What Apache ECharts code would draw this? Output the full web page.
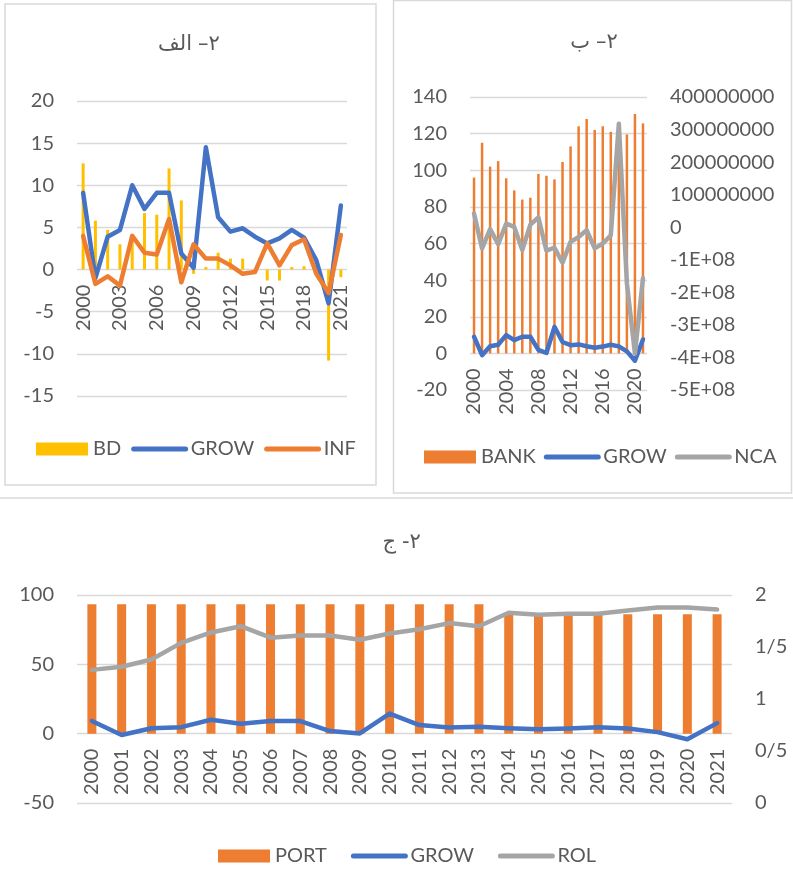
<!DOCTYPE html>
<html>
<head>
<meta charset="utf-8">
<script src="https://cdn.jsdelivr.net/npm/echarts@6/dist/echarts.min.js"></script>
<style>
    html, body { margin: 0; padding: 0; background: #fff; }
    #main { width: 793px; height: 890px; }
</style>
</head>
<body>
<div id="main"></div>
<script>
    // data
    var years = ['2000', '2001', '2002', '2003', '2004', '2005', '2006', '2007', '2008', '2009', '2010',
                 '2011', '2012', '2013', '2014', '2015', '2016', '2017', '2018', '2019', '2020', '2021'];
    var bd   = [12.6, 5.8, 4.7, 3.0, 3.5, 6.7, 6.5, 12.0, 8.2, -0.5, 0.3, 2.0, 1.3, 1.3, 0.1, -1.3, -1.3, 0.3, 0.4, 0.1, -10.8, -0.9];
    var grow = [9.1, -1.0, 3.9, 4.7, 10.0, 7.2, 9.1, 9.1, 1.9, 0.2, 14.5, 6.2, 4.5, 4.9, 3.9, 3.1, 3.7, 4.7, 3.8, 1.1, -4.0, 7.6];
    var inf  = [4.0, -1.7, -0.8, -1.9, 4.0, 2.0, 1.8, 6.0, -1.5, 3.0, 1.3, 1.3, 0.5, -0.5, -0.3, 3.1, 0.5, 2.9, 3.6, -0.5, -2.8, 4.1];
    var bank = [96, 115, 102, 105, 95.6, 89, 84, 85, 98, 97, 95, 104.5, 113, 124, 128, 122, 124, 121, 125, 119.6, 130.7, 125.6];
    var nca  = [42000000, -65000000, -6000000, -52000000, 11000000, 1000000, -70000000, 8000000, 30000000, -72000000, -63000000,
                -109000000, -45000000, -30000000, -9000000, -65000000, -50000000, -25000000, 318000000, -172000000, -388000000, -157000000];
    var port = [93.3, 93.3, 93.3, 93.3, 93.3, 93.3, 93.3, 93.3, 93.3, 93.3, 93.3, 93.3, 93.3, 93.3,
                86.2, 86.2, 86.2, 86.2, 86.2, 86.2, 86.2, 86.2];
    var rol  = [1.28, 1.31, 1.38, 1.54, 1.64, 1.70, 1.59, 1.61, 1.61, 1.57, 1.63, 1.67, 1.73, 1.70,
                1.83, 1.81, 1.82, 1.82, 1.85, 1.88, 1.88, 1.86];

    var font = 'Lato, "Open Sans", sans-serif';
    var grey = '#595959';
    var gridGrey = '#D9D9D9';
    var blue = '#4472C4', orange = '#ED7D31', gold = '#FFC000', silver = '#A5A5A5';

    var grids = [
        { left: 77, top: 101, width: 270, height: 295, min: -15, max: 20 },
        { left: 470, top: 97, width: 177, height: 293, min: -20, max: 140 },
        { left: 77, top: 595, width: 655, height: 208, min: -50, max: 100 }
    ];

    // the year labels sit on the zero line, as in the source: lift the axis from the grid bottom
    function catAxis (gi, interval) {
        var g = grids[gi];
        var lift = g.height * (0 - g.min) / (g.max - g.min);
        return {
            type: 'category', gridIndex: gi, data: years, offset: -lift,
            axisLine: { show: false, onZero: false },
            axisTick: { show: false },
            axisLabel: { interval: interval, rotate: 90, margin: 15, fontSize: 20, color: grey, fontFamily: font }
        }
    }

    function valAxis (gi, min, max, step, pos, fmt) {
        return {
            type: 'value', gridIndex: gi, min: min, max: max, interval: step, position: pos,
            axisLine: { show: false }, axisTick: { show: false },
            splitLine: { show: pos === 'left', lineStyle: { color: gridGrey, width: 1.3 } },
            axisLabel: { margin: 23, fontSize: 20, color: grey, fontFamily: font, formatter: fmt }
        }
    }

    function lineSeries (name, data, color, x, y) {
        return {
            name: name, type: 'line', data: data, xAxisIndex: x, yAxisIndex: y,
            symbol: 'none', animation: false,
            lineStyle: { color: color, width: 4.5, cap: 'round', join: 'round' },
            itemStyle: { color: color }
        }
    }

    function barSeries (name, data, color, width, x, y) {
        return {
            name: name, type: 'bar', data: data, xAxisIndex: x, yAxisIndex: y,
            barWidth: width, animation: false, itemStyle: { color: color }
        }
    }

    // line entries keep only their stroke, the marker is hidden
    function legend (left, top, gap, names) {
        return {
            left: left, top: top, itemWidth: 52, itemHeight: 13, itemGap: gap,
            data: [
                { name: names[0], icon: 'rect' },
                { name: names[1], itemStyle: { opacity: 0 } },
                { name: names[2], itemStyle: { opacity: 0 } }
            ],
            textStyle: { fontSize: 20, color: grey, fontFamily: font },
            lineStyle: { width: 5, cap: 'round' },
            selectedMode: false
        }
    }

    // the word and the "–۲" part are drawn as two runs so their order stays fixed
    function title (word, tail, x, y) {
        var st = { fontSize: 21, fontFamily: '"DejaVu Sans", sans-serif', fill: grey, verticalAlign: 'middle' };
        return [
            { type: 'text', x: x - 3, y: y, silent: true, style: Object.assign({ text: word, align: 'right' }, st) },
            { type: 'text', x: x + 3, y: y, silent: true, style: Object.assign({ text: tail, align: 'left' }, st) }
        ]
    }

    var chart = echarts.init(document.getElementById('main'));
    chart.setOption({
        backgroundColor: '#fff',
        animation: false,
        grid: grids.map(function (g) {
            return { left: g.left, top: g.top, width: g.width, height: g.height };
        }),
        xAxis: [catAxis(0, 2), catAxis(1, 3), catAxis(2, 0)],
        yAxis: [
            valAxis(0, -15, 20, 5, 'left'),
            valAxis(1, -20, 140, 20, 'left'),
            valAxis(1, -500000000, 400000000, 100000000, 'right', function (v) {
                return v < 0 ? '-' + (-v / 1e8) + 'E+08' : String(v);
            }),
            valAxis(2, -50, 100, 50, 'left'),
            valAxis(2, 0, 2, 0.5, 'right', function (v) {
                return String(v).replace('.', '/');
            })
        ],
        legend: [
            legend(31, 434, 10, ['BD', 'GROW', 'INF']),
            legend(419, 442, 8, ['BANK', 'GROW', 'NCA']),
            legend(213, 841, 24, ['PORT', 'GROW', 'ROL'])
        ],
        series: [
            barSeries('BD', bd, gold, 3, 0, 0),
            lineSeries('GROW', grow, blue, 0, 0),
            lineSeries('INF', inf, orange, 0, 0),

            barSeries('BANK', bank, orange, 2.5, 1, 1),
            lineSeries('GROW', grow, blue, 1, 1),
            lineSeries('NCA', nca, silver, 1, 2),

            barSeries('PORT', port, orange, 9, 2, 3),
            lineSeries('GROW', grow, blue, 2, 3),
            lineSeries('ROL', rol, silver, 2, 4)
        ],
        graphic: [
            { type: 'rect', silent: true, shape: { x: 5, y: 4, width: 371, height: 481 },
              style: { fill: 'none', stroke: gridGrey, lineWidth: 1.5 } },
            { type: 'rect', silent: true, shape: { x: 393.5, y: 0.5, width: 398, height: 492.5 },
              style: { fill: 'none', stroke: gridGrey, lineWidth: 1.5 } },
            { type: 'line', silent: true, shape: { x1: 0, y1: 498, x2: 793, y2: 498 },
              style: { stroke: gridGrey, lineWidth: 1.5 } }
        ].concat(
            title('الف', '–۲', 195, 45),
            title('ب', '–۲', 593, 43),
            title('ج', '-۲', 399, 543)
        )
    });
</script>
</body>
</html>
